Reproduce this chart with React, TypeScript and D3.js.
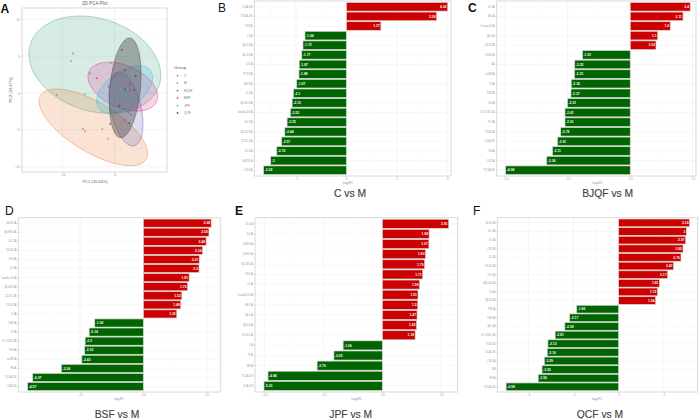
import { useEffect, useRef } from "react"
import * as d3 from "d3"

const FONT = "'Liberation Sans', Arial, sans-serif"

// PCA groups
const groups = ["C", "M", "BJQF", "BSF", "JPF", "QCF"]
const groupColors = ["#4fa98c", "#e67e3c", "#6a5fb5", "#e0358f", "#35b8e0", "#4a4a4a"]
const groupSymbols = [d3.symbolCircle, d3.symbolSquare, d3.symbolCircle, d3.symbolTriangle, d3.symbolCircle, d3.symbolSquare]

const pointsC = [[-7.96, 5.38], [-8.34, 4.34], [-5.67, -0.14], [-0.76, 4.07], [-4.7, 2.67], [2.04, 6.92], [-0.5, -0.18]]
const pointsM = [[-11.08, -0.27], [-6.05, -4.84], [-5.73, -5.2], [-2.36, -4.89], [-1.27, -6.2], [-0.32, -3.57]]
const pointsBJQF = [[-0.06, 2.2], [-0.9, -4.2], [2.6, -2.6], [3.06, -2.9], [2.9, 1.3], [1.8, -2.1]]
const pointsBSF = [[-3.4, 2], [-1.1, 0.86], [2, 1.3], [2.9, 1.1], [2, -3.67], [2.8, 0.4]]
const pointsJPF = [[3.3, 2.67], [0.5, -0.54], [1.1, 0.54], [3.06, -0.5], [2.2, -0.27], [2.5, 0.5]]
const pointsQCF = [[1.34, 5.84], [1.97, 3.1], [4, 2.3], [3.7, 0.4], [0.9, -1.76], [2.8, -4.1], [2, 0.5]]
const groupPoints = [pointsC, pointsM, pointsBJQF, pointsBSF, pointsJPF, pointsQCF]

// ellipse: centre x, centre y, half width, half height, correlation
const ellipseC = [-3.8, 3.84, 12.6, 6.6, -0.22]
const ellipseM = [-4.09, -4.66, 10.36, 5.2, -0.68]
const ellipseBJQF = [2.16, -2.17, 3.25, 5.02, -0.4]
const ellipseBSF = [1.55, 0.87, 6.66, 3.32, -0.4]
const ellipseJPF = [1.9, 0.47, 5.35, 3.23, 0.5]
const ellipseQCF = [2.0, 0.7, 3.03, 6.76, 0.27]
const groupEllipses = [ellipseC, ellipseM, ellipseBJQF, ellipseBSF, ellipseJPF, ellipseQCF]

// bar panels
const namesB = ["LCA-3S", "TUCA-3S", "THCA", "LCA", "3β-DCA", "6k-DCA", "UCA", "TCDCA", "MDCA", "ILCA", "3β-HDCA", "Isoallo-DCA", "DLCA", "3β-UDCA", "12-KLCA", "DLCA", "GUDCA", "ODCA"]
const valuesB = [4.02, 3.58, 1.37, -1.64, -1.72, -1.77, -1.87, -1.88, -1.97, -2.1, -2.15, -2.22, -2.35, -2.44, -2.57, -2.76, -3, -3.28]

const namesC = ["6-CA", "3bCA", "3-oxo-DCA", "3β-CA", "29-DCA", "7-KDCA", "CA", "ω-MCA", "TCA", "TWCA", "TαCA", "6,7-DKLCA", "TLCA", "TUDCA", "LCA-3S", "HCA", "ODCA", "TLCA-3S"]
const valuesC = [2.4, 2.11, 1.6, 1.1, 1.03, -1.91, -2.22, -2.23, -2.36, -2.37, -2.51, -2.61, -2.61, -2.78, -2.91, -3.11, -3.34, -4.98]

const namesD = ["GUDCA", "3β-HDCA", "DLCA", "DUDCA", "ODCA", "ILCA", "Isoallo-DCA", "3β-UDCA", "12-KLCA", "29-DCA", "LCA", "TWCA", "TCA", "6,7-DKLCA", "THCA", "ω-MCA", "HCA", "TLCA-3S", "LCA-3S"]
const valuesD = [2.68, 2.59, 2.48, 2.34, 2.21, 2.2, 1.81, 1.75, 1.52, 1.48, 1.32, -1.92, -2.14, -2.3, -2.32, -2.43, -3.24, -4.37, -4.57]

const namesE = ["DLCA", "ILCA", "GUDCA", "DUDCA", "3β-UDCA", "ODCA", "LCA", "Isoallo-DCA", "MLCA", "3β-CA", "3β-DCA", "12-KLCA", "CA", "TCA", "HCA", "TLCA-3S", "LCA-3S"]
const valuesE = [2.81, 1.98, 1.97, 1.83, 1.79, 1.71, 1.58, 1.51, 1.5, 1.47, 1.45, 1.39, -1.66, -2.05, -2.76, -4.84, -5.01]

const namesF = ["GUDCA", "DLCA", "6-CA", "ODCA", "ILCA", "DUDCA", "29-CA", "3β-UDCA", "UCA", "3β-DCA", "THCA", "TWCA", "3β-CA", "6,7-DKLCA", "TUDCA", "LCA-3S", "ODCA", "CA", "HCA", "TLCA-3S"]
const valuesF = [3.14, 3, 2.97, 2.85, 2.76, 2.43, 2.17, 1.81, 1.72, 1.64, -1.86, -2.17, -2.38, -2.81, -3.13, -3.16, -3.29, -3.39, -3.56, -4.98]

const barPanels = [
  { letter: "B", lx: 218, ly: 12, weight: 400, title: "C vs M", names: namesB, values: valuesB, left: 254.3, right: 451, top: 1, bottom: 176, domain: [-3.65, 4.15], ticks: [-2, 0, 2, 4], fmt: "d", tx: 350, ty: 196.7, ax: 348 },
  { letter: "C", lx: 468, ly: 12, weight: 700, title: "BJQF vs M", names: namesC, values: valuesC, left: 496.7, right: 696, top: 1, bottom: 176, domain: [-5.34, 2.63], ticks: [-5, -2.5, 0, 2.5], fmt: ".1f", tx: 607.7, ty: 197.3, ax: 597.7 },
  { letter: "D", lx: 5, ly: 215, weight: 400, title: "BSF vs M", names: namesD, values: valuesD, left: 18.3, right: 220.3, top: 217.7, bottom: 392, domain: [-4.94, 3.04], ticks: [-2.5, 0, 2.5], fmt: ".1f", tx: 117, ty: 418.3, ax: 119 },
  { letter: "E", lx: 235, ly: 215, weight: 700, title: "JPF vs M", names: namesE, values: valuesE, left: 255, right: 457.7, top: 217.7, bottom: 392, domain: [-5.39, 3.19], ticks: [-5, -2.5, 0, 2.5], fmt: ".1f", tx: 350.7, ty: 418.3, ax: 356.7 },
  { letter: "F", lx: 473, ly: 215, weight: 400, title: "QCF vs M", names: namesF, values: valuesF, left: 497.3, right: 697.7, top: 217.7, bottom: 392, domain: [-5.37, 3.5], ticks: [-4, -2, 0, 2], fmt: "d", tx: 600, ty: 418.3, ax: 597 },
]

function styleAxis(g: any, size: number) {
  g.select(".domain").remove()
  g.selectAll("line").attr("stroke", "#bbb").attr("stroke-width", 0.4)
  g.selectAll("text").attr("fill", "#999").attr("font-size", size).attr("font-family", FONT)
}

function drawPca(svg: any) {
  const left = 22, right = 167, top = 8, bottom = 172
  const x = d3.scaleLinear().domain([-17.72, 10]).range([left, right])
  const y = d3.scaleLinear().domain([-10.72, 11.53]).range([bottom, top])

  const grid = svg.append("g")
  ;[-15, -5, 5].forEach((v) => grid.append("line").attr("x1", x(v)).attr("x2", x(v)).attr("y1", top).attr("y2", bottom).attr("stroke", "#f4f4f4").attr("stroke-width", 0.4))
  ;[-7.5, -2.5, 2.5, 7.5].forEach((v) => grid.append("line").attr("x1", left).attr("x2", right).attr("y1", y(v)).attr("y2", y(v)).attr("stroke", "#f4f4f4").attr("stroke-width", 0.4))
  ;[-10, 0].forEach((v) => grid.append("line").attr("x1", x(v)).attr("x2", x(v)).attr("y1", top).attr("y2", bottom).attr("stroke", "#ebebeb").attr("stroke-width", 0.6))
  ;[-10, -5, 0, 5, 10].forEach((v) => grid.append("line").attr("x1", left).attr("x2", right).attr("y1", y(v)).attr("y2", y(v)).attr("stroke", "#ebebeb").attr("stroke-width", 0.6))

  const angles = d3.range(0, Math.PI * 2, Math.PI / 60)
  groupEllipses.forEach((e, i) => {
    const delta = Math.acos(e[4])
    const line = d3
      .line<number>()
      .x((t) => x(e[0] + e[2] * Math.cos(t)))
      .y((t) => y(e[1] + e[3] * Math.cos(t - delta)))
      .curve(d3.curveLinearClosed)
    svg
      .append("path")
      .attr("d", line(angles))
      .attr("fill", groupColors[i])
      .attr("fill-opacity", i === 5 ? 0.42 : 0.22)
      .attr("stroke", groupColors[i])
      .attr("stroke-opacity", 0.75)
      .attr("stroke-width", 0.6)
  })

  groupPoints.forEach((pts, i) => {
    const sym = d3.symbol().type(groupSymbols[i]).size(2.2)
    svg
      .selectAll(null)
      .data(pts)
      .enter()
      .append("path")
      .attr("d", sym)
      .attr("transform", (d: number[]) => `translate(${x(d[0])},${y(d[1])})`)
      .attr("fill", groupColors[i])
  })

  svg.append("rect").attr("x", left).attr("y", top).attr("width", right - left).attr("height", bottom - top).attr("fill", "none").attr("stroke", "#d9d9d9").attr("stroke-width", 1)

  const ax = svg.append("g").attr("transform", `translate(0,${bottom})`).call(d3.axisBottom(x).tickValues([-10, 0]).tickSize(1).tickPadding(1).tickFormat(d3.format("d") as any))
  styleAxis(ax, 3.4)
  const ay = svg.append("g").attr("transform", `translate(${left},0)`).call(d3.axisLeft(y).tickValues([-10, -5, 0, 5, 10]).tickSize(1).tickPadding(1).tickFormat(d3.format("d") as any))
  styleAxis(ay, 3.4)

  const label = (t: string, px: number, py: number, size: number, fill: string, anchor = "middle") =>
    svg.append("text").attr("x", px).attr("y", py).attr("font-size", size).attr("fill", fill).attr("text-anchor", anchor).attr("font-family", FONT).text(t)

  label("2D PCA Plot", 94.7, 5, 4.6, "#666")
  label("PC1 (30.64%)", 95, 183, 4, "#666")
  svg.append("text").attr("transform", "translate(12,90) rotate(-90)").attr("font-size", 4).attr("fill", "#666").attr("text-anchor", "middle").attr("font-family", FONT).text("PC2 (22.27%)")

  // legend
  label("Group", 174, 69, 4.4, "#666", "start")
  const ly = d3.scalePoint<string>().domain(groups).range([75.7, 113])
  groups.forEach((g, i) => {
    svg.append("path").attr("d", d3.symbol().type(groupSymbols[i]).size(2.4)).attr("transform", `translate(177.5,${ly(g)})`).attr("fill", groupColors[i])
    label(g, 184, (ly(g) as number) + 1.2, 3.4, "#777", "start")
  })
}

function drawBars(svg: any, p: any) {
  const x = d3.scaleLinear().domain(p.domain).range([p.left, p.right])
  const y = d3.scaleBand<string>().domain(p.names.map((_: string, i: number) => String(i))).range([p.top, p.bottom]).paddingInner(0.1).paddingOuter(0.15)

  const step = p.ticks[1] - p.ticks[0]
  const minors = p.ticks.map((t: number) => t - step / 2).concat(p.ticks[p.ticks.length - 1] + step / 2).filter((t: number) => t > p.domain[0] && t < p.domain[1])
  minors.forEach((v: number) => svg.append("line").attr("x1", x(v)).attr("x2", x(v)).attr("y1", p.top).attr("y2", p.bottom).attr("stroke", "#f5f5f5").attr("stroke-width", 0.4))
  p.ticks.forEach((v: number) => svg.append("line").attr("x1", x(v)).attr("x2", x(v)).attr("y1", p.top).attr("y2", p.bottom).attr("stroke", "#ececec").attr("stroke-width", 0.6))
  p.names.forEach((_: string, i: number) => {
    const cy = (y(String(i)) as number) + y.bandwidth() / 2
    svg.append("line").attr("x1", p.left).attr("x2", p.right).attr("y1", cy).attr("y2", cy).attr("stroke", "#f0f0f0").attr("stroke-width", 0.5)
  })

  svg.append("rect").attr("x", p.left).attr("y", p.top).attr("width", p.right - p.left).attr("height", p.bottom - p.top).attr("fill", "none").attr("stroke", "#d9d9d9").attr("stroke-width", 1)

  const zero = x(0)
  svg
    .selectAll(null)
    .data(p.values)
    .enter()
    .append("rect")
    .attr("x", (d: number) => Math.min(zero, x(d)))
    .attr("y", (_: number, i: number) => y(String(i)))
    .attr("width", (d: number) => Math.abs(x(d) - zero))
    .attr("height", y.bandwidth())
    .attr("fill", (d: number) => (d > 0 ? "#cc0000" : "#006400"))
    .attr("stroke", "#d8d8d8")
    .attr("stroke-width", 0.7)

  svg
    .selectAll(null)
    .data(p.values)
    .enter()
    .append("text")
    .attr("x", (d: number) => x(d) + (d > 0 ? -1 : 1))
    .attr("y", (_: number, i: number) => (y(String(i)) as number) + y.bandwidth() / 2 + 1.2)
    .attr("text-anchor", (d: number) => (d > 0 ? "end" : "start"))
    .attr("font-size", 3.4)
    .attr("font-weight", 700)
    .attr("font-family", FONT)
    .attr("fill", "#f4f4f4")
    .text((d: number) => String(d))

  const ax = svg.append("g").attr("transform", `translate(0,${p.bottom})`).call(d3.axisBottom(x).tickValues(p.ticks).tickSize(1).tickPadding(1).tickFormat(d3.format(p.fmt) as any))
  styleAxis(ax, 2.8)
  const ay = svg.append("g").attr("transform", `translate(${p.left},0)`).call(d3.axisLeft(y).tickSize(1).tickPadding(1).tickFormat((_: string, i: number) => p.names[i]))
  styleAxis(ay, 2.8)

  svg.append("text").attr("x", p.ax).attr("y", p.bottom + 7.5).attr("text-anchor", "middle").attr("font-size", 3).attr("fill", "#888").attr("font-family", FONT).text("Log₂FC")
  svg.append("text").attr("x", p.tx).attr("y", p.ty).attr("text-anchor", "middle").attr("font-size", 10.3).attr("fill", "#444").attr("stroke", "#444").attr("stroke-width", 0.15).attr("font-family", FONT).text(p.title)
  svg.append("text").attr("x", p.lx).attr("y", p.ly).attr("font-size", 12).attr("font-weight", p.weight).attr("fill", "#111").attr("font-family", FONT).text(p.letter)
}

export default function App() {
  const svgRef = useRef<SVGSVGElement>(null)

  useEffect(() => {
    if (!svgRef.current) return
    const svg = d3.select(svgRef.current)
    svg.selectAll("*").remove()
    svg.append("rect").attr("width", 700).attr("height", 419).attr("fill", "#fff")
    svg.append("text").attr("x", 0.5).attr("y", 13).attr("font-size", 12).attr("font-weight", 700).attr("fill", "#111").attr("font-family", FONT).text("A")
    drawPca(svg)
    barPanels.forEach((p) => drawBars(svg, p))
  }, [])

  return <svg ref={svgRef} width={700} height={419} style={{ position: "absolute", left: 0, top: 0 }} />
}
